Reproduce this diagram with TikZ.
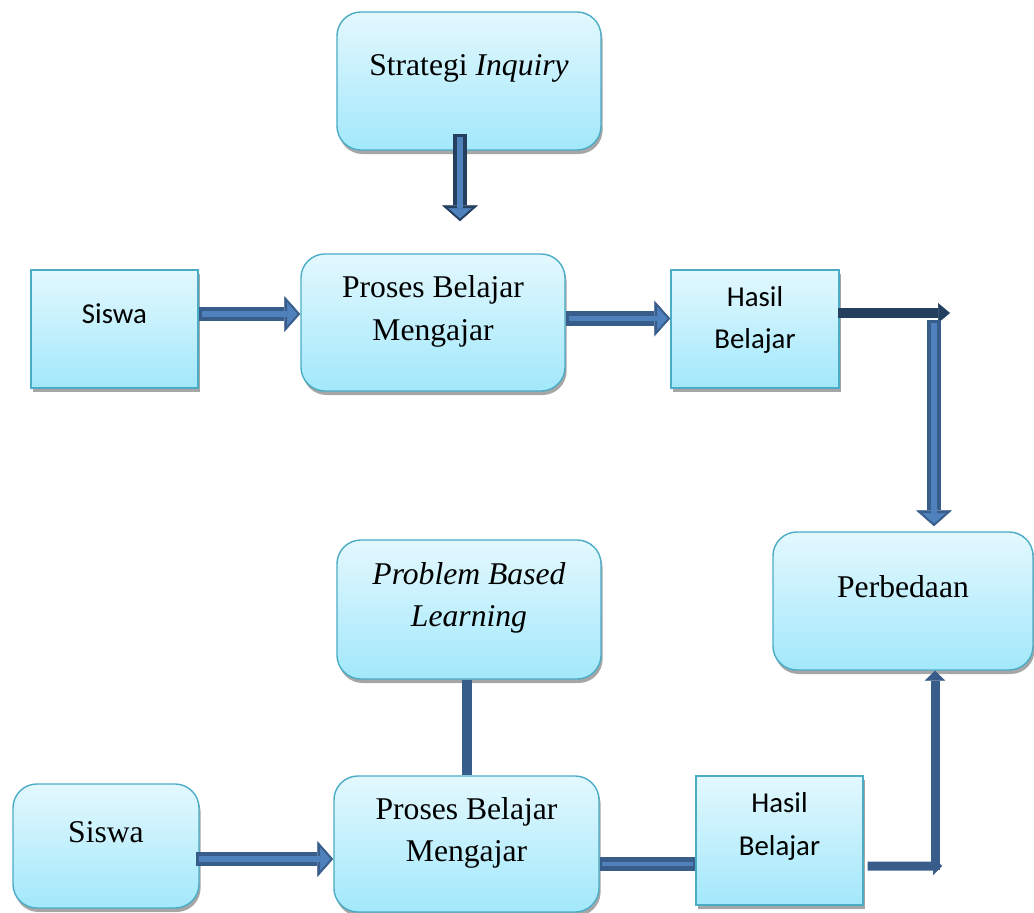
\documentclass[tikz,border=0pt]{standalone}
\usepackage{fontspec}
\setmainfont{Liberation Serif}
\newfontfamily\calibrifont{Carlito}
\usetikzlibrary{arrows.meta, calc, shadows}
\definecolor{boxline}{HTML}{4BACC6}
\definecolor{boxtop}{HTML}{E3F8FE}
\definecolor{boxbot}{HTML}{A2E8FB}
\definecolor{shadowgray}{HTML}{A6A6A6}
\definecolor{arrowdk}{HTML}{385D8A}
\definecolor{navy}{HTML}{243F60}
\definecolor{arrowlt}{HTML}{4F81BD}

\tikzset{
  box/.style={draw=boxline, line width=1pt, top color=boxtop, bottom color=boxbot,
    drop shadow={shadow xshift=0.04cm, shadow yshift=-0.1cm, fill=shadowgray, opacity=1},
    inner sep=0pt},
  rbox/.style={box, rounded corners=0.6cm},
  serif/.style={font=\fontsize{22.5}{30}\selectfont, align=center, inner sep=0pt},
  sans/.style={font=\calibrifont\fontsize{20.5}{30}\selectfont, align=center, inner sep=0pt},
  bout/.style={draw=arrowdk, line width=0.35cm,
    -{Triangle[length=0.4cm, width=0.9cm, line width=0.4pt]}},
  bin/.style={draw=arrowlt, line width=0.14cm, shorten <=0.08cm, shorten >=0.07cm,
    -{Triangle[length=0.26cm, width=0.58cm, line width=0.4pt]}},
  bshaft/.style={draw=arrowdk, line width=0.33cm},
  bshaftin/.style={draw=arrowlt, line width=0.12cm, shorten <=0.06cm, shorten >=0.06cm},
}

\begin{document}
\begin{tikzpicture}[x=0.025cm, y=-0.025cm]

\useasboundingbox (0,0) rectangle (1034,913);

% ================================================================
% Boxes
% ================================================================
\node[rbox, minimum width=6.6cm, minimum height=3.45cm] (strat) at (469,81) {};
\node[serif] (stratT) at ($(strat.center)+(0,-13)$) {Strategi \textit{Inquiry}};

\node[box, minimum width=4.175cm, minimum height=2.95cm] (siswaA) at (114.5,329) {};
\node[sans] (siswaAT) at ($(siswaA.center)+(0,-15)$) {Siswa};

\node[rbox, minimum width=6.6cm, minimum height=3.425cm] (pbmA) at (433,322.5) {};
\node[serif] (pbmAT) at ($(pbmA.center)+(0,-11)$) {Proses Belajar\\Mengajar};

\node[box, minimum width=4.2cm, minimum height=2.95cm] (hasilA) at (755,329) {};
\node[sans] (hasilAT) at ($(hasilA.center)+(0,-9)$) {Hasil\\Belajar};

\node[rbox, minimum width=6.5cm, minimum height=3.45cm] (beda) at (903,601) {};
\node[serif] (bedaT) at ($(beda.center)+(0,-14)$) {Perbedaan};

\node[rbox, minimum width=6.6cm, minimum height=3.475cm] (pbl) at (469,609.5) {};
\node[serif] (pblT) at ($(pbl.center)+(0,-12)$) {\textit{Problem Based}\\\textit{Learning}};

\node[rbox, minimum width=4.65cm, minimum height=3.1cm] (siswaB) at (106,846) {};
\node[serif] (siswaBT) at ($(siswaB.center)+(0,-14)$) {Siswa};

\node[rbox, minimum width=6.625cm, minimum height=3.4cm] (pbmB) at (466.5,844) {};
\node[serif] (pbmBT) at ($(pbmB.center)+(0,-11)$) {Proses Belajar\\Mengajar};

\node[box, minimum width=4.175cm, minimum height=3.225cm] (hasilB) at (779.5,840.5) {};
\node[sans] (hasilBT) at ($(hasilB.center)+(0,-14)$) {Hasil\\Belajar};

% ================================================================
% Connectors (upper row)
% ================================================================
\coordinate (a1s) at ($(strat.south)+(-9,-17)$);
\coordinate (a1e) at ($(pbmA.north)+(27,-32)$);
\draw[bout, draw=navy] (a1s) -- (a1e);
\draw[bin] (a1s) -- (a1e);

\coordinate (a2s) at ($(siswaA.east)+(0,-15)$);
\draw[bout] (a2s) -- (a2s -| pbmA.west);
\draw[bin] (a2s) -- (a2s -| pbmA.west);

\coordinate (a3s) at ($(pbmA.east)+(0,-4)$);
\draw[bout] (a3s) -- (a3s -| hasilA.west);
\draw[bin] (a3s) -- (a3s -| hasilA.west);

\coordinate (a4s) at ($(hasilA.east)+(-2,-16)$);
\coordinate (a4e) at (950,313);
\draw[navy, line width=0.25cm, -{Triangle[length=0.3cm, width=0.5cm, line width=0.4pt]}]
  (a4s) -- (a4e);

\coordinate (a5s) at (934,320);
\coordinate (a5e) at ($(beda.north)+(31,-5)$);
\draw[bout] (a5s) -- (a5e);
\draw[bin] (a5s) -- (a5e);

% ================================================================
% Connectors (lower row)
% ================================================================
\draw[arrowdk, line width=0.25cm] ($(pbl.south)+(-2,0)$) -- ($(pbl.south |- pbmB.north)+(-2,0)$);

\coordinate (a7s) at ($(siswaB.east)+(-4,13)$);
\draw[bout] (a7s) -- (a7s -| pbmB.west);
\draw[bin] (a7s) -- (a7s -| pbmB.west);

\coordinate (a8s) at ($(pbmB.east)+(0,20)$);
\draw[bshaft] (a8s) -- (a8s -| hasilB.west);
\draw[bshaftin] (a8s) -- (a8s -| hasilB.west);

\coordinate (a9s) at ($(hasilB.east)+(4,25.5)$);
\coordinate (a9c) at (942,866);
\draw[arrowdk, line width=0.225cm, -{Triangle[length=0.22cm, width=0.45cm, line width=0.4pt]}]
  (a9s) -- (a9c);
\draw[arrowdk, line width=0.225cm, -{Triangle[length=0.25cm, width=0.52cm, line width=0.4pt]}]
  (935,870) -- ($(beda.south)+(32,0)$);

\end{tikzpicture}
\end{document}
